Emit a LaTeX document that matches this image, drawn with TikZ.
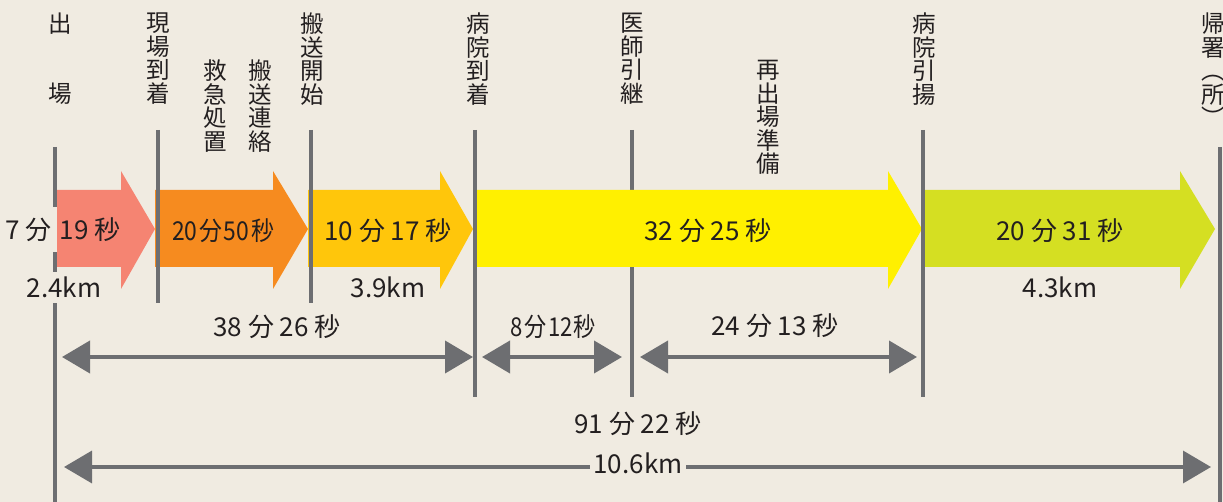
\documentclass[tikz,border=0pt]{standalone}
\usepackage{fontspec}
\setmainfont{Noto Sans CJK JP}
\usetikzlibrary{arrows.meta}
\definecolor{bg}{HTML}{F0EBE1}
\definecolor{gr}{HTML}{6D6E71}
\definecolor{txt}{HTML}{231F20}
\definecolor{c1}{HTML}{F58472}
\definecolor{c2}{HTML}{F68B1F}
\definecolor{c3}{HTML}{FFC60B}
\definecolor{c4}{HTML}{FFF000}
\definecolor{c5}{HTML}{D5DF22}
\tikzset{
  vlabel/.style={anchor=north, inner sep=0pt, align=center, text=txt,
    font=\fontsize{23.5}{23.5}\selectfont},
  tlabel/.style={anchor=base, inner sep=0pt, text=txt,
    font=\fontsize{26}{26}\selectfont},
  vline/.style={draw=gr, line width=3.5pt},
  span/.style={draw=gr, line width=4pt,
    {Triangle[length=28pt,width=32pt]}-{Triangle[length=28pt,width=32pt]}}
}
\begin{document}
\begin{tikzpicture}[x=1pt,y=-1pt]
\useasboundingbox (0,0) rectangle (1223,502);
\fill[bg] (0,0) rectangle (1223,502);

% coordinates for the time marks
\coordinate (L0t) at (55,147);   \coordinate (L0b) at (55,502);
\coordinate (L1t) at (158,130);  \coordinate (L1b) at (158,303);
\coordinate (L2t) at (311,130);  \coordinate (L2b) at (311,303);
\coordinate (L3t) at (475,130);  \coordinate (L3b) at (475,397);
\coordinate (L4t) at (632,130);  \coordinate (L4b) at (632,397);
\coordinate (L5t) at (923,130);  \coordinate (L5b) at (923,397);
\coordinate (L6t) at (1220,147); \coordinate (L6b) at (1220,502);

% line hidden behind the yellow arrow
\draw[vline] (L4t) -- (L4b);

% block arrows
\fill[c1] (57,190) -- (121,190) -- (121,171) -- (155,229) -- (121,289) -- (121,267) -- (57,267) -- cycle;
\fill[c2] (155,190) -- (273,190) -- (273,171) -- (308,229) -- (273,289) -- (273,267) -- (155,267) -- cycle;
\fill[c3] (308,190) -- (440,190) -- (440,171) -- (473,229) -- (440,289) -- (440,267) -- (308,267) -- cycle;
\fill[c4] (477,190) -- (888,190) -- (888,171) -- (922,229) -- (888,289) -- (888,267) -- (477,267) -- cycle;
\fill[c5] (925,190) -- (1180,190) -- (1180,171) -- (1215,229) -- (1180,289) -- (1180,267) -- (925,267) -- cycle;

% other time-mark lines
\draw[vline] (L0t) -- (L0b);
\draw[vline] (L1t) -- (L1b);
\draw[vline] (L2t) -- (L2b);
\draw[vline] (L3t) -- (L3b);
\draw[vline] (L5t) -- (L5b);
\draw[vline] (L6t) -- (L6b);

% vertical labels
\node[vlabel] (v0a) at (60,13) {出};
\node[vlabel] (v0b) at (60,83) {場};
\node[vlabel] (v1) at (158,13) {現\\場\\到\\着};
\node[vlabel] (v1a) at (215,60) {救\\急\\処\\置};
\node[vlabel] (v1b) at (260,60) {搬\\送\\連\\絡};
\node[vlabel] (v2) at (312,13) {搬\\送\\開\\始};
\node[vlabel] (v3) at (478,13) {病\\院\\到\\着};
\node[vlabel] (v4) at (632,13) {医\\師\\引\\継};
\node[vlabel] (v4a) at (768,60) {再\\出\\場\\準\\備};
\node[vlabel] (v5) at (924,13) {病\\院\\引\\揚};
\node[vlabel] (v6) at (1213,13) {帰\\署\\︵\\所\\︶};

% times inside the block arrows
\node[tlabel, fill=bg, inner xsep=5pt, inner ysep=0pt, minimum height=45pt, anchor=east] (t1a) at (57,229.5) {7 分};
\node[tlabel, anchor=base west] (t1b) at (59.5,240) {19 秒};
\node[tlabel] (t2) at (223,241) {\scalebox{0.88}[1]{20\kern2pt分\kern2pt50\kern2pt秒}};
\node[tlabel] (t3) at (388,241) {10 分 17 秒};
\node[tlabel] (t4) at (708,241) {32 分 25 秒};
\node[tlabel] (t5) at (1060,241) {20 分 31 秒};

% distances
\node[tlabel, fill=bg, inner xsep=1pt, inner ysep=5pt] (d1) at (64,298) {2.4km};
\node[tlabel] (d3) at (388,298) {3.9km};
\node[tlabel] (d5) at (1060,298) {4.3km};

% spans
\coordinate (s1a) at (62,357);  \coordinate (s1b) at (473,357);
\coordinate (s2a) at (482,357); \coordinate (s2b) at (622,357);
\coordinate (s3a) at (640,357); \coordinate (s3b) at (917,357);
\coordinate (s4a) at (64,467);  \coordinate (s4b) at (1211,467);
\draw[span] (s1a) -- (s1b);
\draw[span] (s2a) -- (s2b);
\draw[span] (s3a) -- (s3b);
\draw[span, line width=3.5pt] (s4a) -- (s4b);

\node[tlabel] (p1) at (277,337) {38 分 26 秒};
\node[tlabel] (p2) at (553,337) {\scalebox{0.85}[1]{8\kern2pt分\kern2pt12\kern1pt秒}};
\node[tlabel] (p3) at (775,336) {24 分 13 秒};
\node[tlabel] (p4) at (638,433) {91 分 22 秒};
\node[tlabel, fill=bg, inner xsep=4pt, inner ysep=0pt] (p5) at (638,473) {10.6km};
\end{tikzpicture}
\end{document}
